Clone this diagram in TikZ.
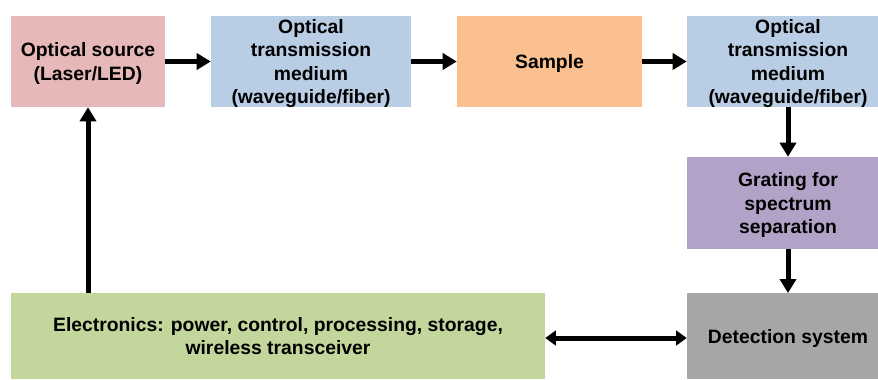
\documentclass[tikz,border=0pt]{standalone}
\usepackage{fontspec}
\setmainfont{Liberation Sans}
\usetikzlibrary{arrows.meta,positioning,calc}

\definecolor{srcred}{HTML}{E6B8B7}
\definecolor{medblue}{HTML}{B9CDE5}
\definecolor{smporange}{HTML}{FAC090}
\definecolor{grtpurple}{HTML}{B3A2C7}
\definecolor{detgray}{HTML}{A6A6A6}
\definecolor{elecgreen}{HTML}{C3D69B}

\begin{document}
\begin{tikzpicture}[x=0.75pt, y=-0.75pt,
  block/.style={inner sep=1pt, align=center, text depth=-2pt,
    font=\bfseries\fontsize{14.5}{17.5}\selectfont},
  flow/.style={line width=3.75pt, -{Triangle[length=10.5pt,width=12pt]}},
  twoway/.style={line width=3.75pt, {Triangle[length=8pt,width=11pt]}-{Triangle[length=8pt,width=11pt]}}]
\useasboundingbox (0,0) rectangle (878,379);
% top row
\node[block, fill=srcred, minimum width=115.5pt, minimum height=68.25pt] (src) at (88,61.5) {Optical source\\(Laser/LED)};
\node[block, fill=medblue, minimum width=150pt, minimum height=68.25pt] (med1) at (311,61.5) {Optical\\transmission\\medium\\(waveguide/fiber)};
\node[block, fill=smporange, minimum width=138.75pt, minimum height=68.25pt] (smp) at (549.5,61.5) {Sample};
\node[block, fill=medblue, minimum width=151.5pt, minimum height=68.25pt] (med2) at (788,61.5) {Optical\\transmission\\medium\\(waveguide/fiber)};
% right column (runs past the right edge)
\node[block, text depth=-6pt, fill=grtpurple, minimum width=151.5pt, minimum height=69pt] (grt) at (788,203) {Grating for\\spectrum\\separation};
\node[block, text depth=-6pt, fill=detgray, minimum width=151.5pt, minimum height=64pt] (det) at (788,336) {Detection system};
% bottom row
\node[block, text depth=-6pt, fill=elecgreen, minimum width=400.5pt, minimum height=64pt] (elec) at (278,336) {Electronics: power, control, processing, storage,\\wireless transceiver};
% connectors
\draw[flow] (src) -- (med1);
\draw[flow] (med1) -- (smp);
\draw[flow] (smp) -- (med2);
\draw[flow] (med2.south) -- (grt.north);
\draw[flow] (grt.south) -- (det.north);
\draw[twoway] ([yshift=-1.5pt]elec.east) -- ([yshift=-1.5pt]det.west);
\draw[flow] (src.south |- elec.north) -- (src.south);
\end{tikzpicture}
\end{document}
